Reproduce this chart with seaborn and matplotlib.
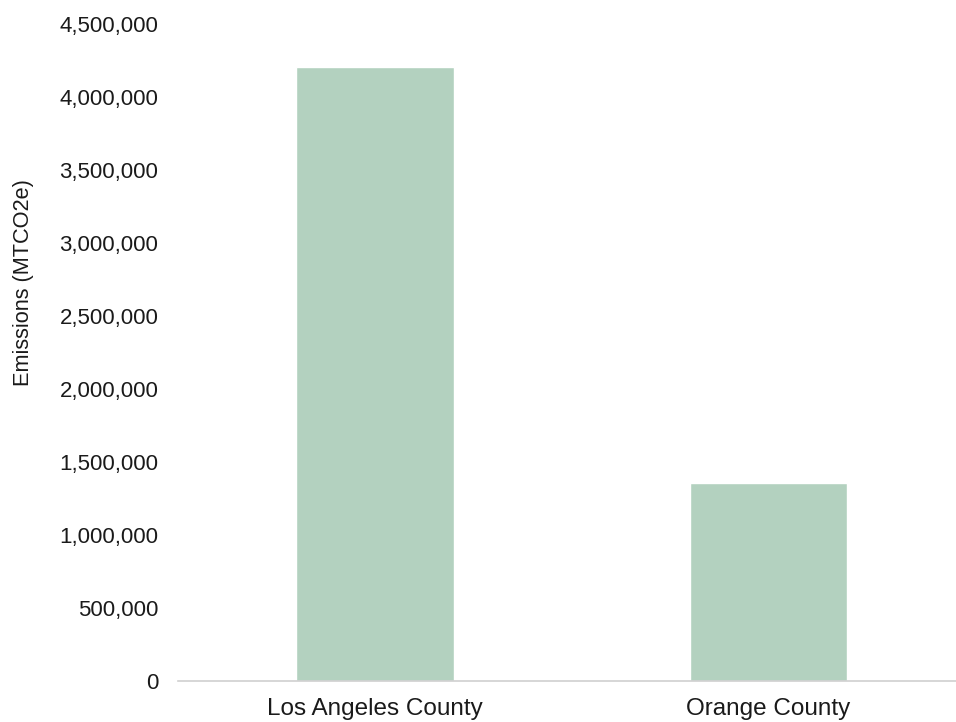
import seaborn as sns
import matplotlib.pyplot as plt
import pandas as pd
from matplotlib.ticker import FuncFormatter

counties = ['Los Angeles County', 'Orange County']
emissions = [4205000, 1356000]

df = pd.DataFrame({'county': counties, 'emissions': emissions})

sns.set_style('white')
plt.rcParams['font.family'] = ['Liberation Sans', 'DejaVu Sans']

fig = plt.figure(figsize=(9.56, 7.22), dpi=100)
ax = fig.add_axes([0.186, 0.0568, 0.824, 0.91])
sns.barplot(data=df, x='county', y='emissions', color='#b3d1bf', saturation=1,
            width=0.4, ax=ax)

ax.set_xlim(-0.5, 1.5)
ax.set_ylim(0, 4500000)
ax.set_yticks(range(0, 4500001, 500000))
ax.yaxis.set_major_formatter(FuncFormatter(lambda v, p: f'{int(v):,}'))
ax.set_xlabel('')
ax.set_ylabel('Emissions (MTCO2e)', fontsize=15.7, color='#1a1a1a')
ax.yaxis.set_label_coords(-0.183, 0.607)
ax.tick_params(axis='y', labelsize=16, colors='#1a1a1a', length=0, pad=14)
ax.tick_params(axis='x', labelsize=17.5, colors='#1a1a1a', length=0, pad=12)

for s in ['top', 'right', 'left']:
    ax.spines[s].set_visible(False)
ax.spines['bottom'].set_color('#d0d0d0')
ax.spines['bottom'].set_linewidth(1.2)

plt.savefig('out.png', dpi=100)
